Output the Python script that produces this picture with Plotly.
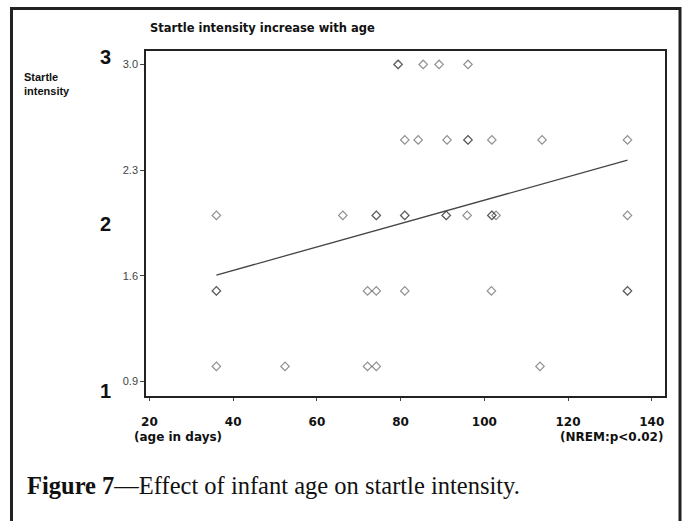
import plotly.graph_objects as go

# ---- data ----
age_days = [79.4, 79.4, 85.4, 89.2, 96.1,
            81.0, 84.2, 91.1, 96.1, 96.1, 101.8, 113.8, 134.2,
            36.0, 66.2, 74.2, 74.2, 81.0, 81.0, 90.9, 90.9, 95.9, 101.8, 101.8, 102.8, 134.2,
            36.0, 36.0, 72.1, 74.2, 81.0, 101.7, 134.2, 134.2,
            36.0, 52.4, 72.1, 74.2, 113.3]
startle = [3.0, 3.0, 3.0, 3.0, 3.0,
           2.5, 2.5, 2.5, 2.5, 2.5, 2.5, 2.5, 2.5,
           2.0, 2.0, 2.0, 2.0, 2.0, 2.0, 2.0, 2.0, 2.0, 2.0, 2.0, 2.0, 2.0,
           1.5, 1.5, 1.5, 1.5, 1.5, 1.5, 1.5, 1.5,
           1.0, 1.0, 1.0, 1.0, 1.0]
fit_x = [36.0, 134.2]
fit_y = [1.605, 2.366]
x_ticks = [20, 40, 60, 80, 100, 120, 140]
y_ticks = [0.9, 1.6, 2.3, 3.0]
y_ticktext = ["0.9", "1.6", "2.3", "3.0"]

SANS = "Liberation Sans, Arial, sans-serif"
WIDE = "DejaVu Sans, Verdana, sans-serif"
SERIF = "Liberation Serif, Times New Roman, serif"

fig = go.Figure()
fig.add_trace(go.Scatter(
    x=age_days, y=startle, mode="markers",
    marker=dict(symbol="diamond-open", size=6.5,
                line=dict(width=1.2, color="rgba(50,50,50,0.55)"),
                color="rgba(50,50,50,0.55)"),
    showlegend=False, hoverinfo="skip"))
fig.add_trace(go.Scatter(
    x=fit_x, y=fit_y, mode="lines",
    line=dict(color="#444", width=1.3),
    showlegend=False, hoverinfo="skip"))

L, R, T, B = 146, 665, 51, 396
W, H = 683, 521
pw, ph = R - L, B - T

def px(xp):
    return (xp - L) / pw

def py(yp):
    return (B - yp) / ph

fig.update_layout(
    width=W, height=H,
    margin=dict(l=L, r=W - R, t=T, b=H - B, pad=0),
    paper_bgcolor="white", plot_bgcolor="white",
    font=dict(family=SANS, color="#222"),
    xaxis=dict(range=[19.18, 143.16], tickvals=x_ticks,
               ticktext=[f"<b>{v}</b>" for v in x_ticks],
               showgrid=False, zeroline=False, showline=True, mirror=True,
               linecolor="#222", linewidth=1.6,
               ticks="outside", ticklen=3, tickcolor="#444",
               tickfont=dict(family=WIDE, size=12, color="#111"), ticklabelstandoff=11),
    yaxis=dict(range=[0.804, 3.089], tickvals=y_ticks, ticktext=y_ticktext,
               showgrid=False, zeroline=False, showline=True, mirror=True,
               linecolor="#222", linewidth=1.6,
               ticks="outside", ticklen=4, tickcolor="#444",
               tickfont=dict(size=11, color="#444")),
)

ann = []
ann.append(dict(text="<b>Startle intensity increase with age</b>", x=px(148), y=py(28),
                xanchor="left", yanchor="middle", font=dict(family=WIDE, size=11.5, color="#111")))
ann.append(dict(text="<b>Startle<br>intensity</b>", x=px(22), y=py(69), align="left",
                xanchor="left", yanchor="top", font=dict(size=11, color="#111")))
for lab, yy in [("3", 57), ("2", 224), ("1", 391)]:
    ann.append(dict(text=f"<b>{lab}</b>", x=px(105), y=py(yy), xanchor="center",
                    yanchor="middle", font=dict(size=20, color="#111")))
ann.append(dict(text="<b>(age in days)</b>", x=px(178), y=py(437), xanchor="center",
                yanchor="middle", font=dict(family=WIDE, size=12, color="#111")))
ann.append(dict(text="<b>(NREM:p<0.02)</b>", x=px(665), y=py(437), xanchor="right",
                yanchor="middle", font=dict(family=WIDE, size=12, color="#111")))
ann.append(dict(text="<b>Figure 7</b>—Effect of infant age on startle intensity.",
                x=px(25), y=py(485), xanchor="left", yanchor="middle",
                font=dict(family=SERIF, size=24.5, color="#111")))
for a in ann:
    a.update(xref="paper", yref="paper", showarrow=False)
fig.update_layout(annotations=ann)

fig.add_shape(type="rect", xref="paper", yref="paper",
              x0=px(11.5), x1=px(680), y0=py(560), y1=py(8.5),
              line=dict(color="#222", width=3), fillcolor="rgba(0,0,0,0)", layer="below")

fig.write_html("out.html")
